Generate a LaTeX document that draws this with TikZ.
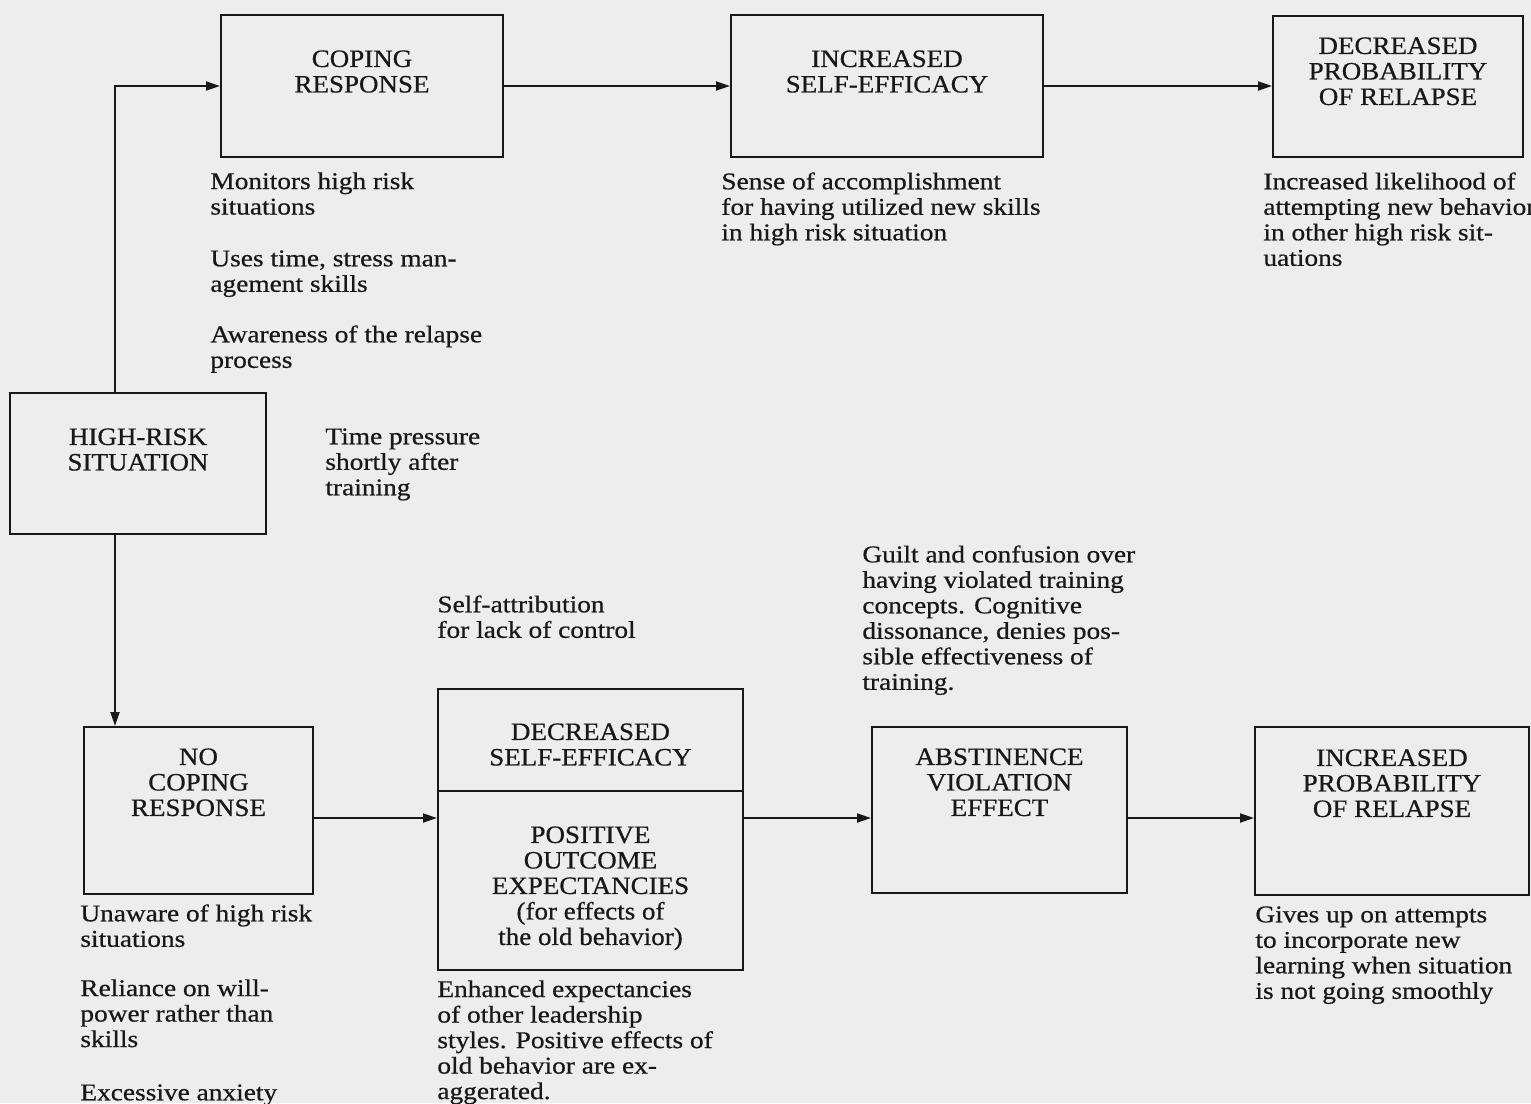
\documentclass[tikz,border=0pt]{standalone}
\usepackage{fontspec}
\setmainfont[FakeStretch=1.14,FakeBold=0.6]{Liberation Serif}
\newfontfamily\titlefont[FakeStretch=1.08,FakeBold=0.6]{Liberation Serif}
\usetikzlibrary{arrows.meta}
\definecolor{paper}{RGB}{237,237,237}
\definecolor{ink}{RGB}{24,24,24}
\tikzset{
  box/.style={draw=ink,line width=1pt,inner sep=0pt},
  title/.style={anchor=north,align=center,inner sep=0pt,text=ink,
    font=\titlefont\fontsize{12.5}{12.75}\selectfont},
  note/.style={anchor=north west,align=left,inner sep=0pt,text=ink,
    font=\fontsize{12}{12.75}\selectfont},
  conn/.style={draw=ink,line width=0.9pt,-{Triangle[length=7pt,width=4.5pt]}}
}
\begin{document}
\begin{tikzpicture}[x=0.5pt,y=-0.5pt]
      \fill[paper](0,0)rectangle(1531,1103);
      \useasboundingbox(0,0)rectangle(1531,1103);

      % upper row
      \node[box,minimum width=141pt,minimum height=71pt](cope)at(362,86){};
      \node[title](copet)at(362,50){COPING\\RESPONSE};
      \node[box,minimum width=156pt,minimum height=71pt](incse)at(887,86){};
      \node[title](incset)at(887,50){INCREASED\\SELF-EFFICACY};
      \node[box,minimum width=125pt,minimum height=70.5pt](dprob)at(1398,86.5){};
      \node[title](dprobt)at(1398,37){DECREASED\\PROBABILITY\\OF RELAPSE};

      \node[note](n1)at(210,172){Monitors high risk\\situations};
      \node[note](n2)at(210,250){Uses time, stress man-\\agement skills};
      \node[note](n3)at(210,325){Awareness of the relapse\\process};
      \node[note](n4)at(721,172){Sense of accomplishment\\for having utilized new skills\\in high risk situation};
      \node[note](n5)at(1263,172){Increased likelihood of\\attempting new behavior\\in other high risk sit-\\uations};

      % start
      \node[box,minimum width=128pt,minimum height=70.5pt](hr)at(138,463.5){};
      \node[title](hrt)at(138,428){HIGH-RISK\\SITUATION};
      \node[note](n6)at(325,428){Time pressure\\shortly after\\training};
      \coordinate(trunk)at(115,600);

      % lower row
      \node[box,minimum width=114.5pt,minimum height=83.5pt](nocope)at(198.5,810.5){};
      \node[title](nocopet)at(198.5,748){NO\\COPING\\RESPONSE};
      \node[box,minimum width=152.5pt,minimum height=140.5pt](dse)at(590.5,829.5){};
      \coordinate(split)at(590.5,791);
      \draw[ink,line width=1pt](split-|dse.west)--(split-|dse.east);
      \node[title](dset)at(590.5,723){DECREASED\\SELF-EFFICACY};
      \node[title](poet)at(590.5,826){POSITIVE\\OUTCOME\\EXPECTANCIES\\(for effects of\\the old behavior)};
      \node[box,minimum width=127.5pt,minimum height=83pt](abst)at(999.5,810){};
      \node[title](abstt)at(999.5,748){ABSTINENCE\\VIOLATION\\EFFECT};
      \node[box,minimum width=137pt,minimum height=84pt](incp)at(1392,811){};
      \node[title](incpt)at(1392,749){INCREASED\\PROBABILITY\\OF RELAPSE};
      \coordinate(row)at(0,818);

      \node[note](n7)at(80,904){Unaware of high risk\\situations};
      \node[note](n8)at(80,979){Reliance on will-\\power rather than\\skills};
      \node[note](n9)at(80,1084){Excessive anxiety};
      \node[note](n10)at(437,595){Self-attribution\\for lack of control};
      \node[note](n11)at(437,980){Enhanced expectancies\\of other leadership\\styles. Positive effects of\\old behavior are ex-\\aggerated.};
      \node[note](n12)at(862,545){Guilt and confusion over\\having violated training\\concepts. Cognitive\\dissonance, denies pos-\\sible effectiveness of\\training.};
      \node[note](n13)at(1255,906){Gives up on attempts\\to incorporate new\\learning when situation\\is not going smoothly};

      % connectors
      \draw[conn](hr.north-|trunk)|-(cope.west);
      \draw[conn](hr.south-|trunk)--(nocope.north-|trunk);
      \draw[conn](cope.east)--(incse.west);
      \draw[conn](incse.east)--(incse.east-|dprob.west);
      \draw[conn](nocope.east|-row)--(dse.west|-row);
      \draw[conn](dse.east|-row)--(abst.west|-row);
      \draw[conn](abst.east|-row)--(incp.west|-row);
    \end{tikzpicture}
\end{document}
